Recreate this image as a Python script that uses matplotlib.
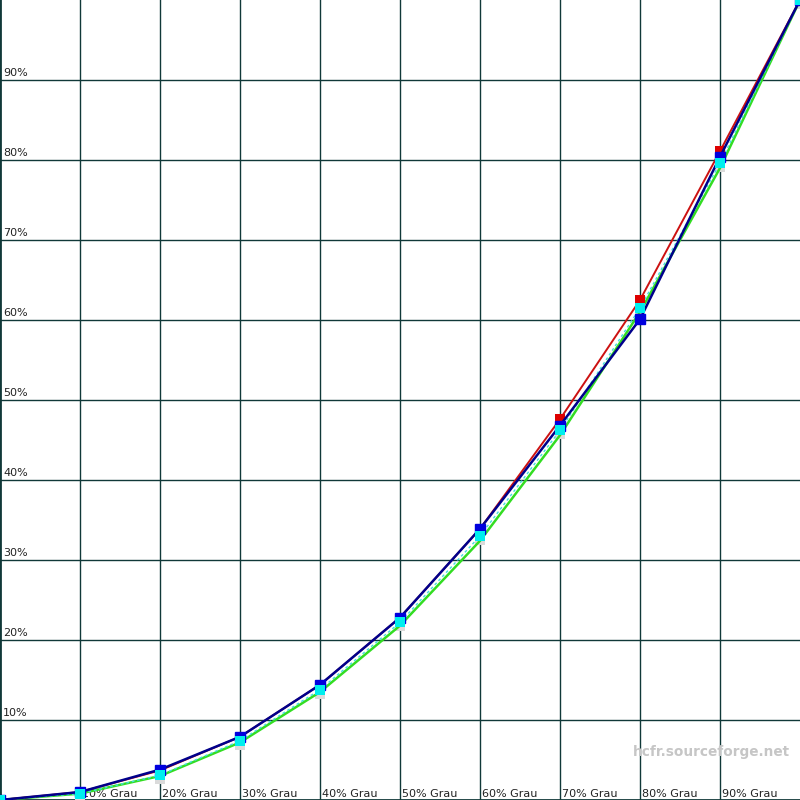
import numpy as np
import matplotlib.pyplot as plt

grau = [0, 10, 20, 30, 40, 50, 60, 70, 80, 90, 100]
rot = [0, 1.0, 3.7, 7.9, 14.4, 22.8, 33.9, 47.6, 62.5, 81.1, 100]
gruen = [0, 0.8, 3.0, 7.2, 13.5, 21.8, 32.4, 45.6, 61.0, 79.0, 100]
blau = [0, 1.0, 3.8, 7.9, 14.4, 22.8, 33.9, 46.8, 60.1, 80.4, 100]
referenz = [0, 0.8, 3.1, 7.4, 13.8, 22.2, 33.0, 46.2, 61.5, 79.6, 100]
x_labels = ["10% Grau", "20% Grau", "30% Grau", "40% Grau", "50% Grau",
            "60% Grau", "70% Grau", "80% Grau", "90% Grau"]
y_labels = ["10%", "20%", "30%", "40%", "50%", "60%", "70%", "80%", "90%"]

grid_col = '#103838'

fig = plt.figure(figsize=(8, 8), dpi=100)
ax = fig.add_axes([0, 0, 1, 1])
ax.set_xlim(0, 100)
ax.set_ylim(0, 100)
ax.set_xticks([])
ax.set_yticks([])
for s in ['top', 'right']:
    ax.spines[s].set_visible(False)
for s in ['left', 'bottom']:
    ax.spines[s].set_color(grid_col)
    ax.spines[s].set_linewidth(2)

for v in range(10, 100, 10):
    ax.axvline(v, color=grid_col, lw=1.0, zorder=1)
    ax.axhline(v, color=grid_col, lw=1.0, zorder=1)

for i, lab in enumerate(x_labels):
    ax.text(grau[i + 1] + 0.3, 0.1, lab, fontsize=8, color='#222222',
            ha='left', va='bottom', zorder=2)
for i, lab in enumerate(y_labels):
    ax.text(0.4, grau[i + 1] + 0.3, lab, fontsize=8, color='#222222',
            ha='left', va='bottom', zorder=2)

ax.text(98.8, 6.0, "hcfr.sourceforge.net", fontsize=9.8, color='#c6c6c6',
        fontweight='bold', ha='right', va='center', zorder=2)

# reference with shadow
ax.plot(grau, np.array(referenz) - 0.5, 's', color='#dadada', ms=7.5, mew=0, zorder=3)
ax.plot(grau, gruen, color='#33dd22', lw=1.8, zorder=4)
ax.plot(grau, rot, color='#cc1111', lw=1.4, zorder=5)
ax.plot(grau, referenz, color='#44dddd', lw=1, ls=(0, (2, 2)), zorder=5)
ax.plot(grau[7:10], rot[7:10], 's', color='#dd0000', ms=7, mew=0, zorder=6)
ax.plot(grau, blau, color='#00008b', lw=1.8, marker='s', ms=6.5, mfc='#0000dd',
        mec='#0000dd', zorder=6)
ax.plot(grau, referenz, 's', color='#00eeee', ms=7.5, mew=0, zorder=7)

fig.savefig('out.png', dpi=100)
